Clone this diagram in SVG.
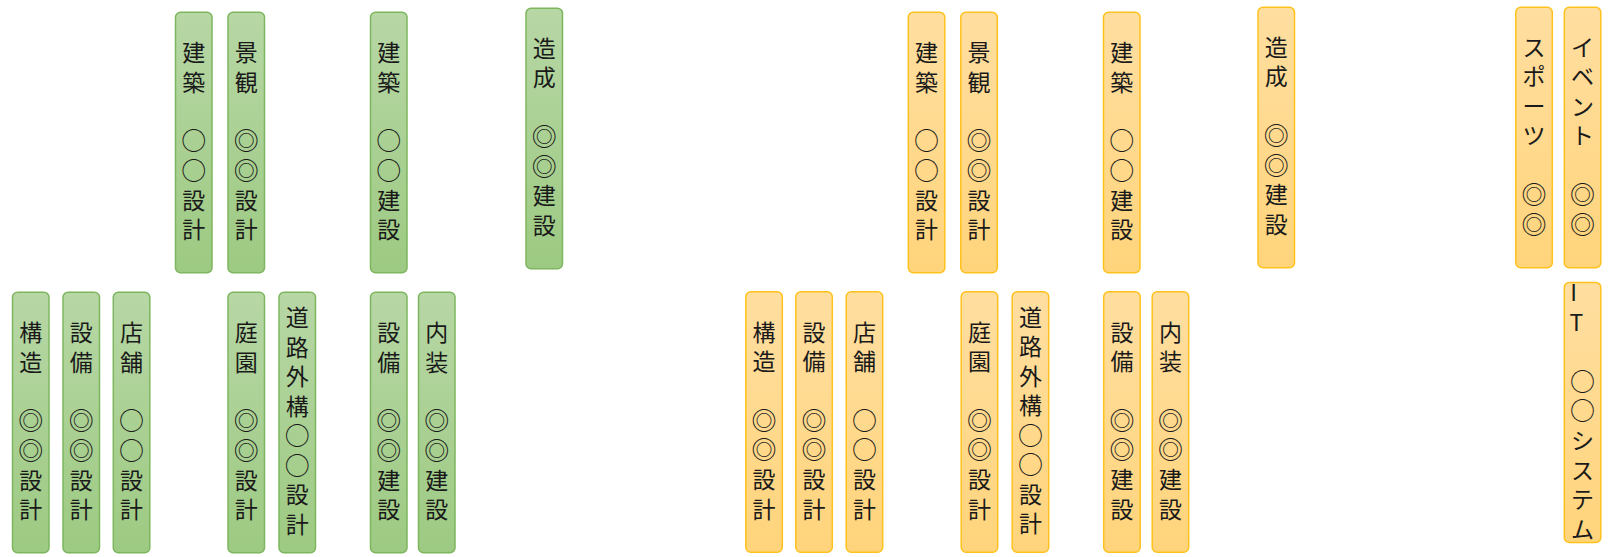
<svg xmlns="http://www.w3.org/2000/svg" width="1608" height="557" viewBox="0 0 1608 557">
<defs>
<linearGradient id="gg" x1="0" y1="0" x2="0" y2="1"><stop offset="0" stop-color="#b7d7a5"/><stop offset="1" stop-color="#9dca82"/></linearGradient>
<linearGradient id="og" x1="0" y1="0" x2="0" y2="1"><stop offset="0" stop-color="#ffdea0"/><stop offset="1" stop-color="#ffd47b"/></linearGradient>
</defs>
<style>
.g{fill:url(#gg);stroke:#7db65e;stroke-width:1.5}
.o{fill:url(#og);stroke:#ffc21c;stroke-width:1.5}
text{font-family:"Noto Sans CJK JP","Noto Sans CJK SC",sans-serif;font-size:23px;fill:#1a1a1a;text-anchor:middle}
.c{font-size:25px}
</style>
<!-- green top -->
<g id="g1"><rect class="g" x="175.5" y="12.3" width="36.5" height="260.5" rx="5"/><text><tspan x="193.75" y="61">建</tspan><tspan x="193.75" y="90.5">築</tspan><tspan class="c" x="193.75" y="150.3">○</tspan><tspan class="c" x="193.75" y="179.8">○</tspan><tspan x="193.75" y="208.5">設</tspan><tspan x="193.75" y="238">計</tspan></text></g>
<g id="g2"><rect class="g" x="228" y="12.3" width="36.5" height="260.5" rx="5"/><text><tspan x="246.25" y="61">景</tspan><tspan x="246.25" y="90.5">観</tspan><tspan class="c" x="246.25" y="150.3">◎</tspan><tspan class="c" x="246.25" y="179.8">◎</tspan><tspan x="246.25" y="208.5">設</tspan><tspan x="246.25" y="238">計</tspan></text></g>
<g id="g3"><rect class="g" x="370.5" y="12.3" width="36.5" height="260.5" rx="5"/><text><tspan x="388.75" y="61">建</tspan><tspan x="388.75" y="90.5">築</tspan><tspan class="c" x="388.75" y="150.3">○</tspan><tspan class="c" x="388.75" y="179.8">○</tspan><tspan x="388.75" y="208.5">建</tspan><tspan x="388.75" y="238">設</tspan></text></g>
<g id="g4"><rect class="g" x="526" y="8.2" width="36.5" height="260.5" rx="5"/><text><tspan x="544.25" y="56.9">造</tspan><tspan x="544.25" y="86.4">成</tspan><tspan class="c" x="544.25" y="146.2">◎</tspan><tspan class="c" x="544.25" y="175.7">◎</tspan><tspan x="544.25" y="204.4">建</tspan><tspan x="544.25" y="233.9">設</tspan></text></g>
<!-- green bottom -->
<g id="g5"><rect class="g" x="12.5" y="292.3" width="36.5" height="260.5" rx="5"/><text><tspan x="30.75" y="341">構</tspan><tspan x="30.75" y="370.5">造</tspan><tspan class="c" x="30.75" y="430.3">◎</tspan><tspan class="c" x="30.75" y="459.8">◎</tspan><tspan x="30.75" y="488.5">設</tspan><tspan x="30.75" y="518">計</tspan></text></g>
<g id="g6"><rect class="g" x="63" y="292.3" width="36.5" height="260.5" rx="5"/><text><tspan x="81.25" y="341">設</tspan><tspan x="81.25" y="370.5">備</tspan><tspan class="c" x="81.25" y="430.3">◎</tspan><tspan class="c" x="81.25" y="459.8">◎</tspan><tspan x="81.25" y="488.5">設</tspan><tspan x="81.25" y="518">計</tspan></text></g>
<g id="g7"><rect class="g" x="113.3" y="292.3" width="36.5" height="260.5" rx="5"/><text><tspan x="131.55" y="341">店</tspan><tspan x="131.55" y="370.5">舗</tspan><tspan class="c" x="131.55" y="430.3">○</tspan><tspan class="c" x="131.55" y="459.8">○</tspan><tspan x="131.55" y="488.5">設</tspan><tspan x="131.55" y="518">計</tspan></text></g>
<g id="g8"><rect class="g" x="228" y="292.3" width="36.5" height="260.5" rx="5"/><text><tspan x="246.25" y="341">庭</tspan><tspan x="246.25" y="370.5">園</tspan><tspan class="c" x="246.25" y="430.3">◎</tspan><tspan class="c" x="246.25" y="459.8">◎</tspan><tspan x="246.25" y="488.5">設</tspan><tspan x="246.25" y="518">計</tspan></text></g>
<g id="g9"><rect class="g" x="279" y="292.3" width="36.5" height="260.5" rx="5"/><text><tspan x="297.25" y="326.25">道</tspan><tspan x="297.25" y="355.75">路</tspan><tspan x="297.25" y="385.25">外</tspan><tspan x="297.25" y="414.75">構</tspan><tspan class="c" x="297.25" y="445">○</tspan><tspan class="c" x="297.25" y="474.5">○</tspan><tspan x="297.25" y="503.25">設</tspan><tspan x="297.25" y="532.75">計</tspan></text></g>
<g id="g10"><rect class="g" x="370.5" y="292.3" width="36.5" height="260.5" rx="5"/><text><tspan x="388.75" y="341">設</tspan><tspan x="388.75" y="370.5">備</tspan><tspan class="c" x="388.75" y="430.3">◎</tspan><tspan class="c" x="388.75" y="459.8">◎</tspan><tspan x="388.75" y="488.5">建</tspan><tspan x="388.75" y="518">設</tspan></text></g>
<g id="g11"><rect class="g" x="418.5" y="292.3" width="36.5" height="260.5" rx="5"/><text><tspan x="436.75" y="341">内</tspan><tspan x="436.75" y="370.5">装</tspan><tspan class="c" x="436.75" y="430.3">◎</tspan><tspan class="c" x="436.75" y="459.8">◎</tspan><tspan x="436.75" y="488.5">建</tspan><tspan x="436.75" y="518">設</tspan></text></g>
<!-- orange top -->
<g id="o1"><rect class="o" x="908.3" y="12.2" width="36.5" height="260.5" rx="5"/><text><tspan x="926.55" y="61">建</tspan><tspan x="926.55" y="90.5">築</tspan><tspan class="c" x="926.55" y="150.3">○</tspan><tspan class="c" x="926.55" y="179.8">○</tspan><tspan x="926.55" y="208.5">設</tspan><tspan x="926.55" y="238">計</tspan></text></g>
<g id="o2"><rect class="o" x="960.8" y="12.2" width="36.5" height="260.5" rx="5"/><text><tspan x="979.05" y="61">景</tspan><tspan x="979.05" y="90.5">観</tspan><tspan class="c" x="979.05" y="150.3">◎</tspan><tspan class="c" x="979.05" y="179.8">◎</tspan><tspan x="979.05" y="208.5">設</tspan><tspan x="979.05" y="238">計</tspan></text></g>
<g id="o3"><rect class="o" x="1103.5" y="12.2" width="36.5" height="260.5" rx="5"/><text><tspan x="1121.75" y="61">建</tspan><tspan x="1121.75" y="90.5">築</tspan><tspan class="c" x="1121.75" y="150.3">○</tspan><tspan class="c" x="1121.75" y="179.8">○</tspan><tspan x="1121.75" y="208.5">建</tspan><tspan x="1121.75" y="238">設</tspan></text></g>
<g id="o4"><rect class="o" x="1258" y="7.2" width="36.5" height="260.5" rx="5"/><text><tspan x="1276.25" y="55.9">造</tspan><tspan x="1276.25" y="85.4">成</tspan><tspan class="c" x="1276.25" y="145.2">◎</tspan><tspan class="c" x="1276.25" y="174.7">◎</tspan><tspan x="1276.25" y="203.4">建</tspan><tspan x="1276.25" y="232.9">設</tspan></text></g>
<g id="o5"><rect class="o" x="1515.8" y="7.2" width="36.5" height="260.5" rx="5"/><text><tspan x="1534.05" y="55.9">ス</tspan><tspan x="1534.05" y="85.4">ポ</tspan><tspan x="1534.05" y="114.9">ー</tspan><tspan x="1534.05" y="144.4">ツ</tspan><tspan class="c" x="1534.05" y="204.2">◎</tspan><tspan class="c" x="1534.05" y="233.7">◎</tspan></text></g>
<g id="o6"><rect class="o" x="1564.3" y="7.2" width="36.5" height="260.5" rx="5"/><text><tspan x="1582.55" y="55.9">イ</tspan><tspan x="1582.55" y="85.4">ベ</tspan><tspan x="1582.55" y="114.9">ン</tspan><tspan x="1582.55" y="144.4">ト</tspan><tspan class="c" x="1582.55" y="204.2">◎</tspan><tspan class="c" x="1582.55" y="233.7">◎</tspan></text></g>
<!-- orange bottom -->
<g id="o7"><rect class="o" x="745.8" y="291.8" width="36.5" height="260.5" rx="5"/><text><tspan x="764.05" y="340.5">構</tspan><tspan x="764.05" y="370">造</tspan><tspan class="c" x="764.05" y="429.8">◎</tspan><tspan class="c" x="764.05" y="459.3">◎</tspan><tspan x="764.05" y="488">設</tspan><tspan x="764.05" y="517.5">計</tspan></text></g>
<g id="o8"><rect class="o" x="795.8" y="291.8" width="36.5" height="260.5" rx="5"/><text><tspan x="814.05" y="340.5">設</tspan><tspan x="814.05" y="370">備</tspan><tspan class="c" x="814.05" y="429.8">◎</tspan><tspan class="c" x="814.05" y="459.3">◎</tspan><tspan x="814.05" y="488">設</tspan><tspan x="814.05" y="517.5">計</tspan></text></g>
<g id="o9"><rect class="o" x="846.2" y="291.8" width="36.5" height="260.5" rx="5"/><text><tspan x="864.45" y="340.5">店</tspan><tspan x="864.45" y="370">舗</tspan><tspan class="c" x="864.45" y="429.8">○</tspan><tspan class="c" x="864.45" y="459.3">○</tspan><tspan x="864.45" y="488">設</tspan><tspan x="864.45" y="517.5">計</tspan></text></g>
<g id="o10"><rect class="o" x="961.2" y="291.8" width="36.5" height="260.5" rx="5"/><text><tspan x="979.45" y="340.5">庭</tspan><tspan x="979.45" y="370">園</tspan><tspan class="c" x="979.45" y="429.8">◎</tspan><tspan class="c" x="979.45" y="459.3">◎</tspan><tspan x="979.45" y="488">設</tspan><tspan x="979.45" y="517.5">計</tspan></text></g>
<g id="o11"><rect class="o" x="1012.2" y="291.8" width="36.5" height="260.5" rx="5"/><text><tspan x="1030.45" y="325.75">道</tspan><tspan x="1030.45" y="355.25">路</tspan><tspan x="1030.45" y="384.75">外</tspan><tspan x="1030.45" y="414.25">構</tspan><tspan class="c" x="1030.45" y="444.5">○</tspan><tspan class="c" x="1030.45" y="474">○</tspan><tspan x="1030.45" y="502.75">設</tspan><tspan x="1030.45" y="532.25">計</tspan></text></g>
<g id="o12"><rect class="o" x="1103.7" y="291.8" width="36.5" height="260.5" rx="5"/><text><tspan x="1121.95" y="340.5">設</tspan><tspan x="1121.95" y="370">備</tspan><tspan class="c" x="1121.95" y="429.8">◎</tspan><tspan class="c" x="1121.95" y="459.3">◎</tspan><tspan x="1121.95" y="488">建</tspan><tspan x="1121.95" y="517.5">設</tspan></text></g>
<g id="o13"><rect class="o" x="1152.2" y="291.8" width="36.5" height="260.5" rx="5"/><text><tspan x="1170.45" y="340.5">内</tspan><tspan x="1170.45" y="370">装</tspan><tspan class="c" x="1170.45" y="429.8">◎</tspan><tspan class="c" x="1170.45" y="459.3">◎</tspan><tspan x="1170.45" y="488">建</tspan><tspan x="1170.45" y="517.5">設</tspan></text></g>
<g id="o14"><rect class="o" x="1564.3" y="282.4" width="36.5" height="260" rx="5"/><text><tspan x="1573.5" y="301.3">I</tspan><tspan x="1576.5" y="331.1">T</tspan><tspan class="c" x="1582.55" y="390.9">○</tspan><tspan class="c" x="1582.55" y="420.4">○</tspan><tspan x="1582.55" y="449.1">シ</tspan><tspan x="1582.55" y="478.6">ス</tspan><tspan x="1582.55" y="508.1">テ</tspan><tspan x="1582.55" y="537.6">ム</tspan></text></g>
</svg>
